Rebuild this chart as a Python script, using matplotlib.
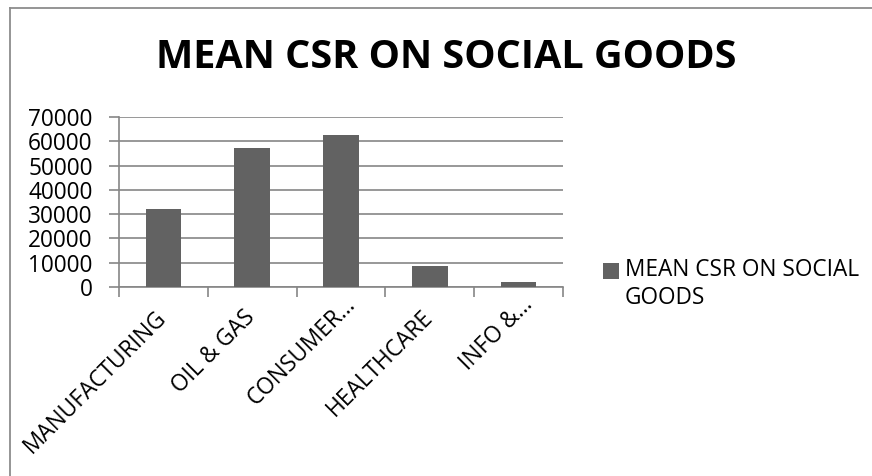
import matplotlib
matplotlib.use("Agg")
import matplotlib.pyplot as plt
from matplotlib.lines import Line2D

categories = ["MANUFACTURING", "OIL & GAS", "CONSUMER…", "HEALTHCARE", "INFO &…"]
values = [32100, 57100, 62400, 8600, 1900]
yticks = [0, 10000, 20000, 30000, 40000, 50000, 60000, 70000]
series_name = "MEAN CSR ON SOCIAL\nGOODS"
title = "MEAN CSR ON SOCIAL GOODS"

plt.rcParams['font.family'] = ['Open Sans', 'DejaVu Sans']

W, H = 872, 476
fig = plt.figure(figsize=(W / 100, H / 100), dpi=100)
fig.patch.set_facecolor('white')

def fx(px):
    return px / W

def fy(py):
    return 1 - py / H

ax = fig.add_axes([fx(119), fy(287), fx(563) - fx(119), fy(117) - fy(287)])

grid_c = '#868686'
bar_c = '#626262'
fs = 16.3

x = list(range(len(categories)))
bars = ax.bar(x, values, width=0.4, color=bar_c, zorder=3, label=series_name)

ax.set_xlim(-0.5, len(categories) - 0.5)
ax.set_ylim(0, 70000)
ax.set_yticks(yticks)
ax.set_yticklabels([str(v) for v in yticks], fontsize=fs, color='black')
ax.yaxis.grid(True, color=grid_c, linewidth=1.2, zorder=0)

# category boundary ticks
ax.set_xticks([i - 0.5 for i in range(len(categories) + 1)])
ax.set_xticklabels([])
ax.tick_params(axis='x', direction='out', length=7, color=grid_c, width=1.2)
ax.tick_params(axis='y', direction='out', length=7, color=grid_c, width=1.2, pad=12)

for s in ['top', 'right']:
    ax.spines[s].set_visible(False)
for s in ['left', 'bottom']:
    ax.spines[s].set_color(grid_c)
    ax.spines[s].set_linewidth(1.2)

# rotated category labels
for i, c in enumerate(categories):
    dx, dy = 2.8, -22.5
    if c.endswith('…'):
        dx += 8.0
        dy += 9.0
    ax.annotate(c, xy=(i, 0), xycoords=('data', 'axes fraction'),
                xytext=(dx, dy), textcoords='offset points',
                rotation=45, ha='right', va='baseline', fontsize=fs,
                rotation_mode='anchor')

fig.text(fx(446), fy(57), title, ha='center', va='center',
         fontsize=28.5, fontweight='bold')

leg = fig.legend(handles=[bars], labels=[series_name], loc='upper left',
                 bbox_to_anchor=(fx(603), fy(258)), frameon=False,
                 fontsize=fs, handlelength=0.7, handleheight=0.7,
                 handletextpad=0.25, borderaxespad=0, borderpad=0,
                 labelspacing=0)
h = leg.legend_handles[0]
h.set_y(h.get_y() + 10)

# outer chart border (left and top visible)
fig.add_artist(Line2D([fx(9.5), fx(9.5)], [0, fy(7.5)], color='#8c8c8c', linewidth=1.3))
fig.add_artist(Line2D([fx(9.5), 1], [fy(7.5), fy(7.5)], color='#8c8c8c', linewidth=1.3))

fig.savefig('out.png', dpi=100)
